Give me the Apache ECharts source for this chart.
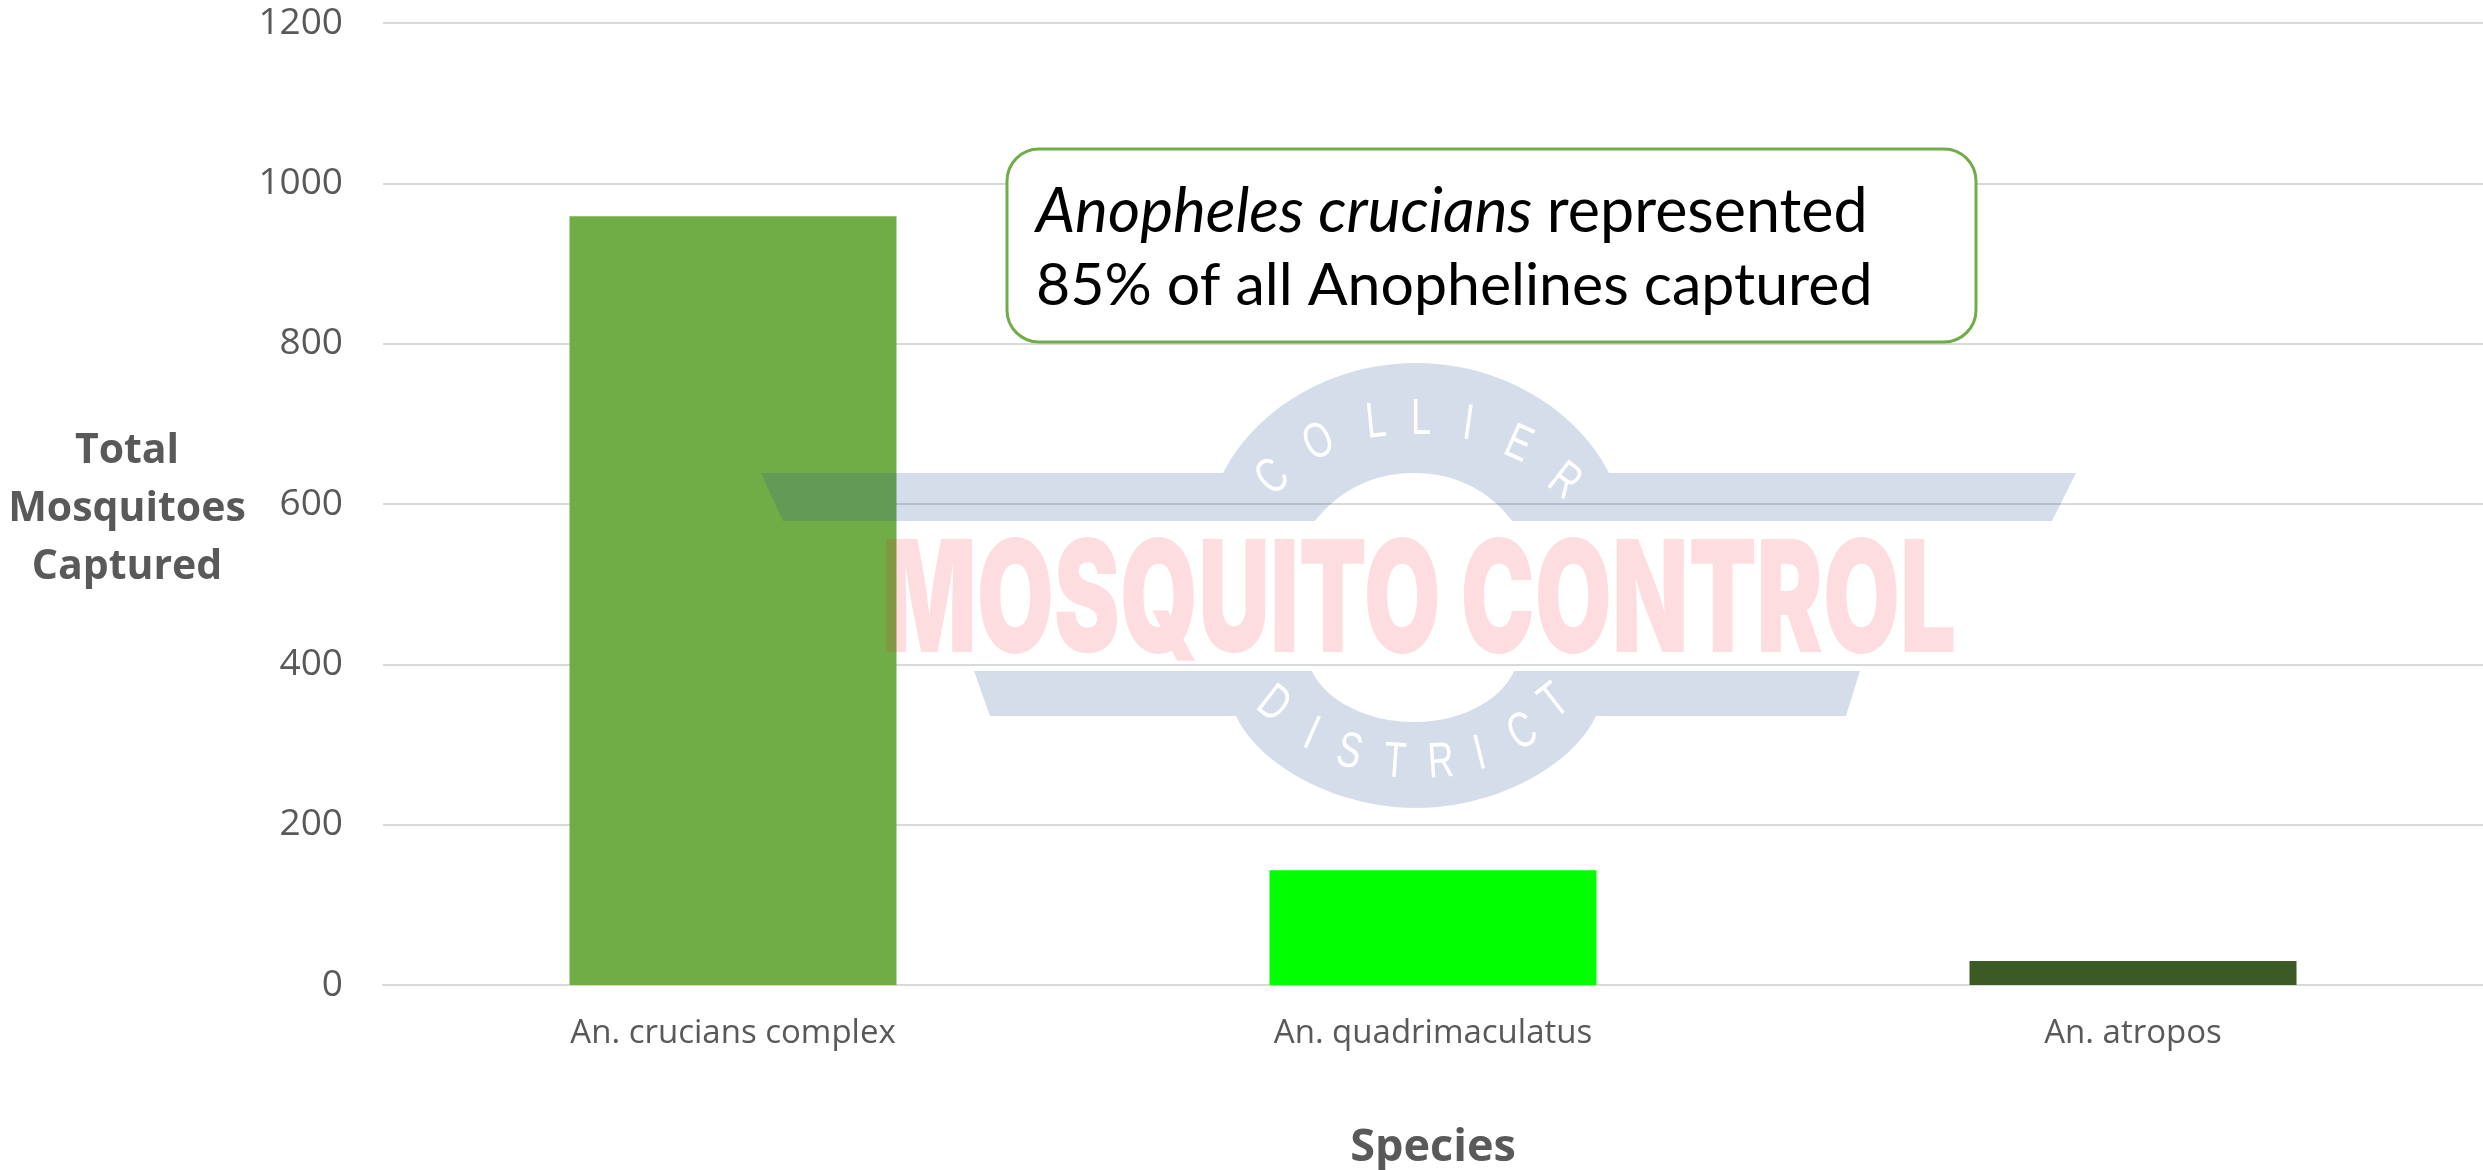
<!DOCTYPE html>
<html>
<head>
<meta charset="utf-8">
<title>Anopheles captured by species</title>
<style>
  html, body { margin: 0; padding: 0; background: #fff; }
  #chart { width: 2483px; height: 1170px; }
</style>
<script src="https://cdn.jsdelivr.net/npm/echarts@6/dist/echarts.min.js"></script>
</head>
<body>
<div id="chart"></div>
<script>
const categories = ['An. crucians complex', 'An. quadrimaculatus', 'An. atropos']
const captured = [959, 143, 30]
const barColors = ['#70ad47', '#00ff00', '#3c5a24']
const yTicks = { min: 0, max: 1200, interval: 200 }

const labelColor = '#595959'
const gridColor = '#d9d9d9'
const logoBlue = 'rgba(47, 85, 151, 0.2)'
const logoRed = 'rgba(240, 30, 50, 0.15)'

// watermark outlines: a two item entry is a corner, a six item entry a cubic curve from the previous point
const logoUpper = [
  [761, 473], [1223, 473], [1255, 410, 1330, 363, 1416, 363], [1502, 363, 1577, 410, 1609, 473],
  [2076, 473], [2052, 521], [1512, 521], [1497, 500, 1465, 473, 1414, 473], [1363, 473, 1331, 500, 1315, 521], [783, 521],
]
const logoLower = [
  [974, 671], [1312, 671], [1322, 695, 1360, 722, 1414, 722], [1468, 722, 1504, 695, 1514, 671],
  [1860, 671], [1846, 716], [1596, 716], [1570, 770, 1490, 808, 1416, 808], [1342, 808, 1262, 770, 1236, 716], [990, 716],
]

// watermark letters: [char, x, y, rotation in degrees]
const collierLetters = [
  ['C', 1273, 478, 40], ['O', 1319, 443, 24], ['L', 1376, 423, 6], ['L', 1421, 420, 0],
  ['I', 1468, 425, -8], ['E', 1518, 445, -24], ['R', 1564, 482, -38],
]
const districtLetters = [
  ['D', 1273, 705, -38], ['I', 1311, 735, -24], ['S', 1349, 753, -14], ['T', 1395, 763, -4],
  ['R', 1441, 763, 4], ['I', 1480, 755, 14], ['C', 1523, 733, 26], ['T', 1555, 702, 38],
]

function outline(segments) {
  const pts = []
  segments.forEach(s => {
    if (s.length === 2) {
      pts.push(s)
      return
    }
    const p0 = pts[pts.length - 1]
    for (let k = 1; k <= 24; k++) {
      const t = k / 24
      const u = 1 - t
      pts.push([
        u * u * u * p0[0] + 3 * u * u * t * s[0] + 3 * u * t * t * s[2] + t * t * t * s[4],
        u * u * u * p0[1] + 3 * u * u * t * s[1] + 3 * u * t * t * s[3] + t * t * t * s[5],
      ])
    }
  })
  return pts
}

function logoLetter(l) {
  return {
    type: 'text',
    silent: true,
    z: 20,
    x: l[1],
    y: l[2],
    scaleX: 0.72,
    rotation: l[3] * Math.PI / 180,
    style: {
      text: l[0],
      fill: '#fff',
      font: '50px "Liberation Sans"',
      align: 'center',
      verticalAlign: 'middle',
    },
  }
}

const chart = echarts.init(document.getElementById('chart'))
chart.setOption({
  animation: false,
  backgroundColor: '#fff',
  grid: { left: 383, right: 0, top: 23, bottom: 185, outerBoundsMode: 'none' },
  xAxis: {
    type: 'category',
    data: categories,
    name: 'Species',
    nameLocation: 'middle',
    nameGap: 141,
    nameTextStyle: { fontFamily: 'Open Sans', fontWeight: 'bold', fontSize: 45, color: labelColor },
    axisTick: { show: false },
    axisLine: { lineStyle: { color: gridColor, width: 2 } },
    axisLabel: { fontFamily: 'Open Sans', fontSize: 33, color: labelColor, margin: 32 },
  },
  yAxis: {
    type: 'value',
    min: yTicks.min,
    max: yTicks.max,
    interval: yTicks.interval,
    // the small first line pushes the title block down a little
    name: '{gap| }\nTotal\nMosquitoes\nCaptured',
    nameLocation: 'middle',
    nameRotate: 0,
    nameGap: 256,
    nameTextStyle: {
      fontFamily: 'Open Sans',
      fontWeight: 'bold',
      fontSize: 41,
      lineHeight: 58,
      color: labelColor,
      align: 'center',
      rich: { gap: { fontSize: 4, lineHeight: 10 } },
    },
    axisLine: { show: false },
    axisTick: { show: false },
    splitLine: { lineStyle: { color: gridColor, width: 2 } },
    axisLabel: {
      fontFamily: 'Open Sans',
      fontSize: 37,
      color: labelColor,
      margin: 40,
      padding: [10, 0, 0, 0],
      formatter: v => String(v),
    },
  },
  series: [{
    type: 'bar',
    barWidth: 327,
    data: captured.map((v, i) => ({ value: v, itemStyle: { color: barColors[i] } })),
  }],
  graphic: [
    {
      type: 'polygon',
      silent: true,
      z: 10,
      shape: { points: outline(logoUpper) },
      style: { fill: logoBlue },
    },
    {
      type: 'polygon',
      silent: true,
      z: 10,
      shape: { points: outline(logoLower) },
      style: { fill: logoBlue },
    },
    {
      type: 'text',
      silent: true,
      z: 10,
      x: 1419,
      y: 605,
      scaleX: 0.637,
      style: {
        text: 'MOSQUITO CONTROL',
        fill: logoRed,
        font: '900 156px Inter',
        align: 'center',
        verticalAlign: 'middle',
      },
    },
    ...collierLetters.map(logoLetter),
    ...districtLetters.map(logoLetter),
    {
      type: 'rect',
      silent: true,
      z: 30,
      shape: { x: 1007, y: 149, width: 969, height: 193, r: 32 },
      style: { fill: '#fff', stroke: '#70ad47', lineWidth: 3 },
    },
    {
      type: 'text',
      silent: true,
      z: 31,
      x: 1036,
      y: 212,
      style: {
        text: '{i|Anopheles crucians }{n|represented}',
        fill: '#000',
        verticalAlign: 'middle',
        rich: {
          i: { font: 'italic 62px Lato', fill: '#000' },
          n: { font: '61px Lato', fill: '#000' },
        },
      },
    },
    {
      type: 'text',
      silent: true,
      z: 31,
      x: 1036,
      y: 286,
      style: {
        text: '85% of all Anophelines captured',
        fill: '#000',
        font: '59px Lato',
        verticalAlign: 'middle',
      },
    },
  ],
})
</script>
</body>
</html>
